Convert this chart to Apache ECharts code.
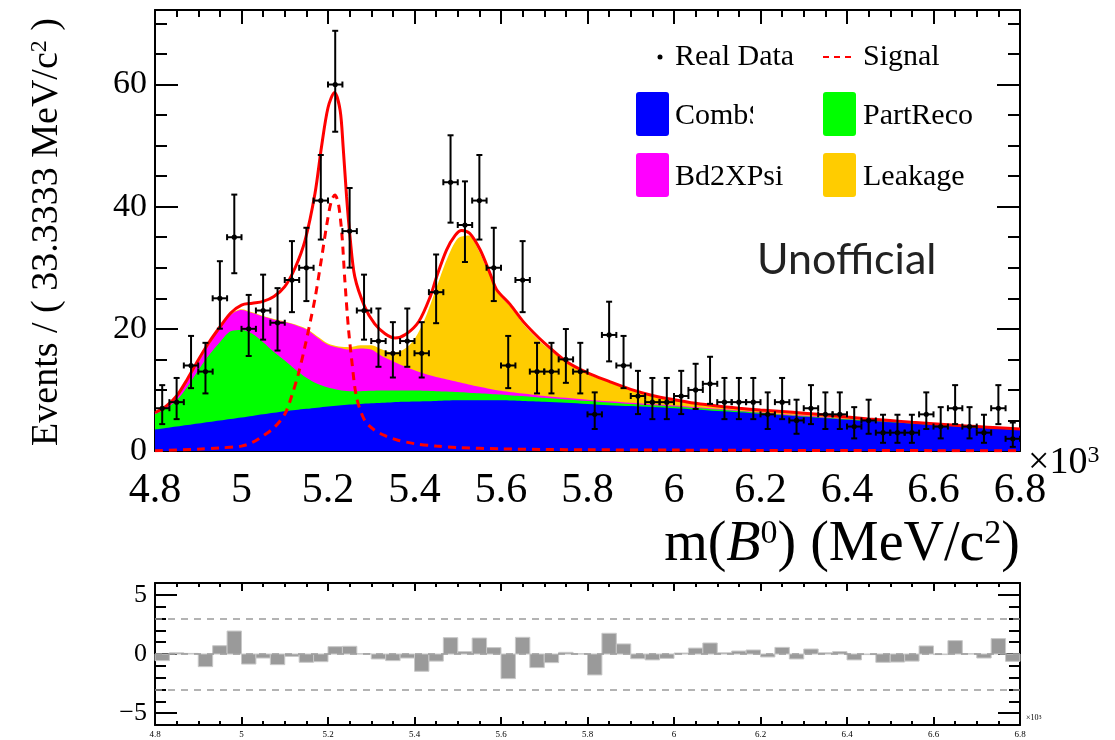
<!DOCTYPE html>
<html><head><meta charset="utf-8">
<script src="https://cdn.jsdelivr.net/npm/echarts@6/dist/echarts.min.js"></script>
<style>html,body{margin:0;padding:0;background:#fff}#c{width:1115px;height:740px}</style>
</head><body><div id="c"></div>
<script>
// ---------- data ----------
const massMin = 4800, massMax = 6800, binWidth = 2000 / 60; // 33.3333 MeV/c2 bins
const counts = [7,8,14,13,25,35,20,23,21,28,30,41,60,36,23,18,16,18,16,26,44,37,41,30,14,28,13,13,15,13,6,19,14,9,8,8,9,10,11,8,8,8,6,8,5,7,6,6,4,5,3,3,3,6,4,7,4,3,7,2];
const pulls = [-0.56,0.1,0.05,-1.07,0.7,1.94,-0.85,-0.34,-0.9,-0.2,-0.7,-0.65,0.62,0.65,0.02,-0.42,-0.56,-0.34,-1.46,-0.6,1.38,0.2,1.35,0.54,-2.08,1.41,-1.15,-0.73,0.14,0.02,-1.77,1.75,0.85,-0.4,-0.5,-0.37,0.08,0.5,0.93,0.1,0.25,0.34,-0.25,0.56,-0.42,0.42,0.1,0.2,-0.5,-0.05,-0.7,-0.68,-0.6,0.68,-0.05,1.13,0.02,-0.34,1.3,-0.62];

// component curves (cumulative, stacked tops) on a common mass grid
const massGrid = [4800,4825,4850,4875,4900,4925,4950,4975,5000,5025,5050,5075,5100,5125,5150,5175,5200,5225,5250,5275,5300,5325,5350,5375,5400,5425,5450,5475,5500,5525,5550,5575,5600,5625,5650,5675,5700,
  5750,5800,5850,5900,5950,6000,6050,6100,6150,6200,6250,6300,6350,6400,6450,6500,6550,6600,6650,6700,6750,6800];
const combTop = [3.5,3.75,4.0,4.25,4.5,4.75,5.0,5.25,5.5,5.75,6.0,6.25,6.5,6.7,6.9,7.1,7.3,7.45,7.6,7.7,7.8,7.9,8.0,8.05,8.1,8.15,8.2,8.25,8.3,8.3,8.3,8.3,8.3,8.25,8.2,8.15,8.05,
  7.9,7.7,7.5,7.35,7.2,7.0,6.8,6.55,6.35,6.1,5.85,5.6,5.35,5.1,4.9,4.7,4.5,4.25,4.05,3.85,3.65,3.45];
const partRecoTop = [6.0,6.9,8.3,10.5,13.2,15.7,17.8,19.6,19.8,19.2,17.8,16.2,14.8,13.3,12.0,11.0,10.4,10.0,9.8,9.8,9.85,9.9,9.9,9.9,9.9,9.85,9.8,9.75,9.65,9.55,9.45,9.35,9.25,9.1,9.0,8.85,8.7,
  8.45,8.2,7.95,7.7,7.5,7.3,7.05,6.8,6.55,6.25,5.95,5.7,5.45,5.2,5.0,4.8,4.58,4.35,4.15,3.95,3.75,3.53];
const bd2xpsiTop = [6.2,7.2,8.8,11.4,14.4,17.4,20.0,22.3,23.1,22.6,22.0,21.5,21.1,20.6,19.9,18.6,17.4,16.9,16.6,16.8,16.6,15.5,14.7,13.9,13.2,12.6,12.1,11.7,11.3,10.9,10.5,10.15,9.85,9.6,9.4,9.2,9.0,
  8.7,8.4,8.15,7.9,7.65,7.45,7.2,6.9,6.65,6.35,6.05,5.8,5.55,5.25,5.05,4.85,4.62,4.4,4.2,4.0,3.8,3.57];
const leakageTop = [6.25,7.3,8.9,11.5,14.5,17.5,20.1,22.4,23.2,22.7,22.1,21.6,21.2,20.7,20.0,18.8,17.6,17.1,17.0,17.3,17.3,16.6,16.1,16.6,18.3,21.8,26.6,31.4,34.8,35.3,32.6,28.6,25.3,23.4,20.9,19.0,17.3,
  14.55,12.6,11.25,9.95,8.95,8.25,7.65,7.2,6.88,6.58,6.35,6.1,5.8,5.47,5.18,4.93,4.66,4.42,4.18,3.98,3.78,3.58];

// total fit and signal
const totalMass = [4800,4825,4850,4875,4900,4925,4950,4975,5000,5025,5050,5075,5100,
  5124,5147,5170,5185,5200,5215,5228,5235,5243,5251,5262,5285,5308,5332,5355,5380,5410,5436,5451,5474,5494,5509,5528,5552,5575,5590,5621,5650,5675,5700,
  5750,5800,5850,5900,5950,6000,6050,6100,6150,6200,6250,6300,6350,6400,6450,6500,6550,6600,6650,6700,6750,6800];
const totalFit = [6.3,7.3,9.0,11.8,14.9,17.8,20.3,22.6,23.9,24.2,24.5,25.3,26.9,
  30.0,34.5,42.2,49.8,56.2,58.7,55.8,49.8,41.6,35.0,28.5,23.6,20.8,19.2,18.5,19.1,21.2,25.2,28.5,32.9,35.3,36.1,35.6,32.9,29.0,26.4,24.0,21.3,19.4,17.7,
  14.7,12.8,11.4,10.1,9.1,8.4,7.8,7.35,7.0,6.7,6.45,6.2,5.9,5.55,5.25,5.0,4.7,4.45,4.2,4.0,3.8,3.6];
const signalMass = [4800,4900,4950,5000,5025,5050,5075,5100,5116,5131,5147,5160,5170,5185,5197,5208,5216,5224,5232,5239,5247,5255,5266,5285,5308,5332,5360,
  5400,5450,5500,5600,5700,5800,6000,6200,6400,6600,6800];
const signalFit = [0.05,0.3,0.5,0.8,1.4,2.5,3.8,6.0,9.0,12.5,17.2,21.5,25.0,31.5,37.0,41.0,41.9,40.5,35.6,27.9,20.3,14.8,8.8,5.0,3.4,2.5,1.8,
  1.2,0.8,0.55,0.35,0.25,0.2,0.15,0.1,0.08,0.06,0.05];

const yTicksTop = [0,20,40,60];
const yMinorTop = [0,5,10,15,20,25,30,35,40,45,50,55,60,65,70];
const yTicksPull = [-5,0,5];
const yMinorPull = [-5,-4,-3,-2,-1,0,1,2,3,4,5];
const pullBands = [-3,0,3];

// ---------- build ----------
const SERIF = '"Liberation Serif","Times New Roman",serif';
const pair = (xs, ys) => xs.map((x, i) => [x, ys[i]]);
const centers = counts.map((_, i) => massMin + (i + 0.5) * binWidth);
// Poisson (Garwood-like) interval for each count
const errLo = counts.map(n => n > 0 ? n - Math.sqrt(n - 0.25) : 0);
const errHi = counts.map(n => n + 1 + Math.sqrt(n + 0.75));

const chart = echarts.init(document.getElementById('c'));
const black = '#000';

function xAxis(grid, pos, labels, fs, major, minor, margin) {
  return {
    type: 'value', gridIndex: grid, position: pos, min: massMin, max: massMax, interval: 200,
    axisLine: { show: true, onZero: false, lineStyle: { color: black, width: 2 } },
    axisTick: { show: true, inside: true, length: major, lineStyle: { color: black, width: 2 } },
    minorTick: { show: true, splitNumber: 4, length: minor, lineStyle: { color: black, width: 2 } },
    axisLabel: { show: labels, margin: margin, fontFamily: SERIF, fontSize: fs, color: black,
      formatter: v => String(parseFloat((v / 1000).toFixed(1))) },
    splitLine: { show: false }
  };
}
function yAxis(grid, pos, min, max, ticks, len, labelVals, fs, line) {
  return {
    type: 'value', gridIndex: grid, position: pos, min: min, max: max,
    axisLine: { show: line, onZero: false, lineStyle: { color: black, width: 2 } },
    axisTick: { show: true, inside: true, length: len, customValues: ticks, lineStyle: { color: black, width: 2 } },
    axisLabel: labelVals ? { show: true, customValues: labelVals, margin: 8, fontFamily: SERIF, fontSize: fs, color: black,
      formatter: v => (v < 0 ? '\u2212' + (-v) : String(v)) } : { show: false },
    splitLine: { show: false }
  };
}

const option = {
  animation: false,
  backgroundColor: '#fff',
  grid: [
    { left: 155, right: 95, top: 10, height: 441 },
    { left: 155, right: 95, top: 583, height: 142 }
  ],
  xAxis: [
    xAxis(0, 'bottom', true, 42, 14, 7, 19),
    xAxis(0, 'top', false, 42, 14, 7, 19),
    xAxis(1, 'bottom', true, 9, 8, 4, 5),
    xAxis(1, 'top', false, 9, 8, 4, 5)
  ],
  yAxis: [
    yAxis(0, 'left', 0, 72.2, yMinorTop, 12, yTicksTop, 34, true),
    yAxis(0, 'left', 0, 72.2, yTicksTop, 23, null, 34, false),
    yAxis(0, 'right', 0, 72.2, yMinorTop, 12, null, 34, true),
    yAxis(0, 'right', 0, 72.2, yTicksTop, 23, null, 34, false),
    yAxis(1, 'left', -6, 6, yMinorPull, 11, yTicksPull, 26, true),
    yAxis(1, 'left', -6, 6, yTicksPull, 22, null, 26, false),
    yAxis(1, 'right', -6, 6, yMinorPull, 11, null, 26, true),
    yAxis(1, 'right', -6, 6, yTicksPull, 22, null, 26, false)
  ],
  series: [
    { name: 'Leakage', type: 'line', xAxisIndex: 0, yAxisIndex: 0, data: pair(massGrid, leakageTop), smooth: 0.3,
      showSymbol: false, lineStyle: { width: 0 }, areaStyle: { color: '#ffcc00', opacity: 1 }, z: 1 },
    { name: 'Bd2XPsi', type: 'line', xAxisIndex: 0, yAxisIndex: 0, data: pair(massGrid, bd2xpsiTop), smooth: 0.3,
      showSymbol: false, lineStyle: { width: 0 }, areaStyle: { color: '#ff00ff', opacity: 1 }, z: 2 },
    { name: 'PartReco', type: 'line', xAxisIndex: 0, yAxisIndex: 0, data: pair(massGrid, partRecoTop), smooth: 0.3,
      showSymbol: false, lineStyle: { width: 0 }, areaStyle: { color: '#00ff00', opacity: 1 }, z: 3 },
    { name: 'Comb', type: 'line', xAxisIndex: 0, yAxisIndex: 0, data: pair(massGrid, combTop), smooth: 0.3,
      showSymbol: false, lineStyle: { width: 0 }, areaStyle: { color: '#0000ff', opacity: 1 }, z: 4 },
    { name: 'Signal', type: 'line', xAxisIndex: 0, yAxisIndex: 0, data: pair(signalMass, signalFit), smooth: 0.3,
      showSymbol: false, lineStyle: { color: '#ff0000', width: 3, type: [8, 6] }, z: 5 },
    { name: 'Total', type: 'line', xAxisIndex: 0, yAxisIndex: 0, data: pair(totalMass, totalFit), smooth: 0.3,
      showSymbol: false, lineStyle: { color: '#ff0000', width: 3 }, z: 6 },
    { name: 'Real Data', type: 'custom', xAxisIndex: 0, yAxisIndex: 0, z: 10,
      data: counts.map((n, i) => [centers[i], n, errLo[i], errHi[i]]),
      encode: { x: 0, y: 1 },
      renderItem: function (params, api) {
        const x = api.value(0), y = api.value(1);
        const c = api.coord([x, y]);
        const l = api.coord([x - binWidth / 2, y]), r = api.coord([x + binWidth / 2, y]);
        const lo = api.coord([x, api.value(2)]), hi = api.coord([x, api.value(3)]);
        const st = { stroke: '#000', lineWidth: 2 };
        const cap = 3;
        return { type: 'group', children: [
          { type: 'line', shape: { x1: l[0], y1: c[1], x2: r[0], y2: c[1] }, style: st },
          { type: 'line', shape: { x1: c[0], y1: lo[1], x2: c[0], y2: hi[1] }, style: st },
          { type: 'line', shape: { x1: l[0], y1: c[1] - cap, x2: l[0], y2: c[1] + cap }, style: st },
          { type: 'line', shape: { x1: r[0], y1: c[1] - cap, x2: r[0], y2: c[1] + cap }, style: st },
          { type: 'line', shape: { x1: c[0] - cap, y1: lo[1], x2: c[0] + cap, y2: lo[1] }, style: st },
          { type: 'line', shape: { x1: c[0] - cap, y1: hi[1], x2: c[0] + cap, y2: hi[1] }, style: st },
          { type: 'circle', shape: { cx: c[0], cy: c[1], r: 2.6 }, style: { fill: '#000' } }
        ] };
      }
    },
    { name: 'Pull', type: 'custom', xAxisIndex: 2, yAxisIndex: 4, z: 3,
      data: pulls.map((p, i) => [centers[i], p]),
      encode: { x: 0, y: 1 },
      renderItem: function (params, api) {
        const x = api.value(0), p = api.value(1);
        const a = api.coord([x - binWidth / 2, 0]), b = api.coord([x + binWidth / 2, p]);
        return { type: 'rect', shape: { x: a[0], y: Math.min(a[1], b[1]), width: b[0] - a[0], height: Math.abs(b[1] - a[1]) },
          style: { fill: '#9a9a9a', stroke: '#c8c8c8', lineWidth: 1 } };
      },
      markLine: { silent: true, symbol: 'none', label: { show: false },
        lineStyle: { color: '#9a9a9a', type: [7, 6], width: 1.5 },
        data: pullBands.map(v => ({ yAxis: v })) }
    }
  ],
  graphic: [
    // axis titles
    { type: 'text', x: 47, y: 232, rotation: Math.PI / 2, z: 20,
      style: { text: 'Events / ( 33.3333 MeV/c{s|2} )', align: 'center', verticalAlign: 'middle',
        font: '38px ' + SERIF, fill: '#000',
        rich: { s: { fontSize: 24, fontFamily: SERIF, verticalAlign: 'top', fill: '#000' } } } },
    { type: 'text', x: 1020, y: 545, z: 20,
      style: { text: 'm({i|B}{s|0}) (MeV/c{s|2})', align: 'right', verticalAlign: 'middle',
        font: '56px ' + SERIF, fill: '#000',
        rich: { i: { fontStyle: 'italic', fontSize: 56, fontFamily: SERIF, fill: '#000' },
                s: { fontSize: 34, fontFamily: SERIF, verticalAlign: 'top', fill: '#000' } } } },
    { type: 'text', x: 1028, y: 463, z: 20,
      style: { text: '\u00d710{s|3}', align: 'left', verticalAlign: 'middle', font: '38px ' + SERIF, fill: '#000',
        rich: { s: { fontSize: 24, fontFamily: SERIF, verticalAlign: 'top', fill: '#000' } } } },
    { type: 'text', x: 1026, y: 718, z: 20,
      style: { text: '\u00d710{s|3}', align: 'left', verticalAlign: 'middle', font: '8px ' + SERIF, fill: '#000',
        rich: { s: { fontSize: 6, fontFamily: SERIF, verticalAlign: 'top', fill: '#000' } } } },
    // Unofficial
    { type: 'text', x: 757, y: 260, z: 20,
      style: { text: 'Unofficial', align: 'left', verticalAlign: 'middle', font: '43px Lato, "Open Sans", sans-serif', fill: '#222' } },
    // legend
    { type: 'circle', z: 20, shape: { cx: 660, cy: 57, r: 2.5 }, style: { fill: '#000' } },
    { type: 'text', x: 675, y: 57, z: 20, style: { text: 'Real Data', verticalAlign: 'middle', font: '30px ' + SERIF, fill: '#000' } },
    { type: 'line', z: 20, shape: { x1: 823, y1: 57, x2: 856, y2: 57 }, style: { stroke: '#ff0000', lineWidth: 2, lineDash: [6, 5] } },
    { type: 'text', x: 863, y: 57, z: 20, style: { text: 'Signal', verticalAlign: 'middle', font: '30px ' + SERIF, fill: '#000' } },
    { type: 'rect', z: 20, shape: { x: 636, y: 92, width: 33, height: 44, r: 3 }, style: { fill: '#0000ff' } },
    { type: 'text', x: 675, y: 116, z: 20, style: { text: 'CombS', verticalAlign: 'middle', font: '30px ' + SERIF, fill: '#000' } },
    { type: 'rect', z: 21, shape: { x: 753, y: 98, width: 40, height: 36 }, style: { fill: '#fff' } },
    { type: 'rect', z: 20, shape: { x: 823, y: 92, width: 33, height: 44, r: 3 }, style: { fill: '#00ff00' } },
    { type: 'text', x: 863, y: 116, z: 20, style: { text: 'PartReco', verticalAlign: 'middle', font: '30px ' + SERIF, fill: '#000' } },
    { type: 'rect', z: 20, shape: { x: 636, y: 153, width: 33, height: 44, r: 3 }, style: { fill: '#ff00ff' } },
    { type: 'text', x: 675, y: 177, z: 20, style: { text: 'Bd2XPsi', verticalAlign: 'middle', font: '30px ' + SERIF, fill: '#000' } },
    { type: 'rect', z: 20, shape: { x: 823, y: 153, width: 33, height: 44, r: 3 }, style: { fill: '#ffcc00' } },
    { type: 'text', x: 863, y: 177, z: 20, style: { text: 'Leakage', verticalAlign: 'middle', font: '30px ' + SERIF, fill: '#000' } }
  ]
};
chart.setOption(option);
</script>
</body></html>
